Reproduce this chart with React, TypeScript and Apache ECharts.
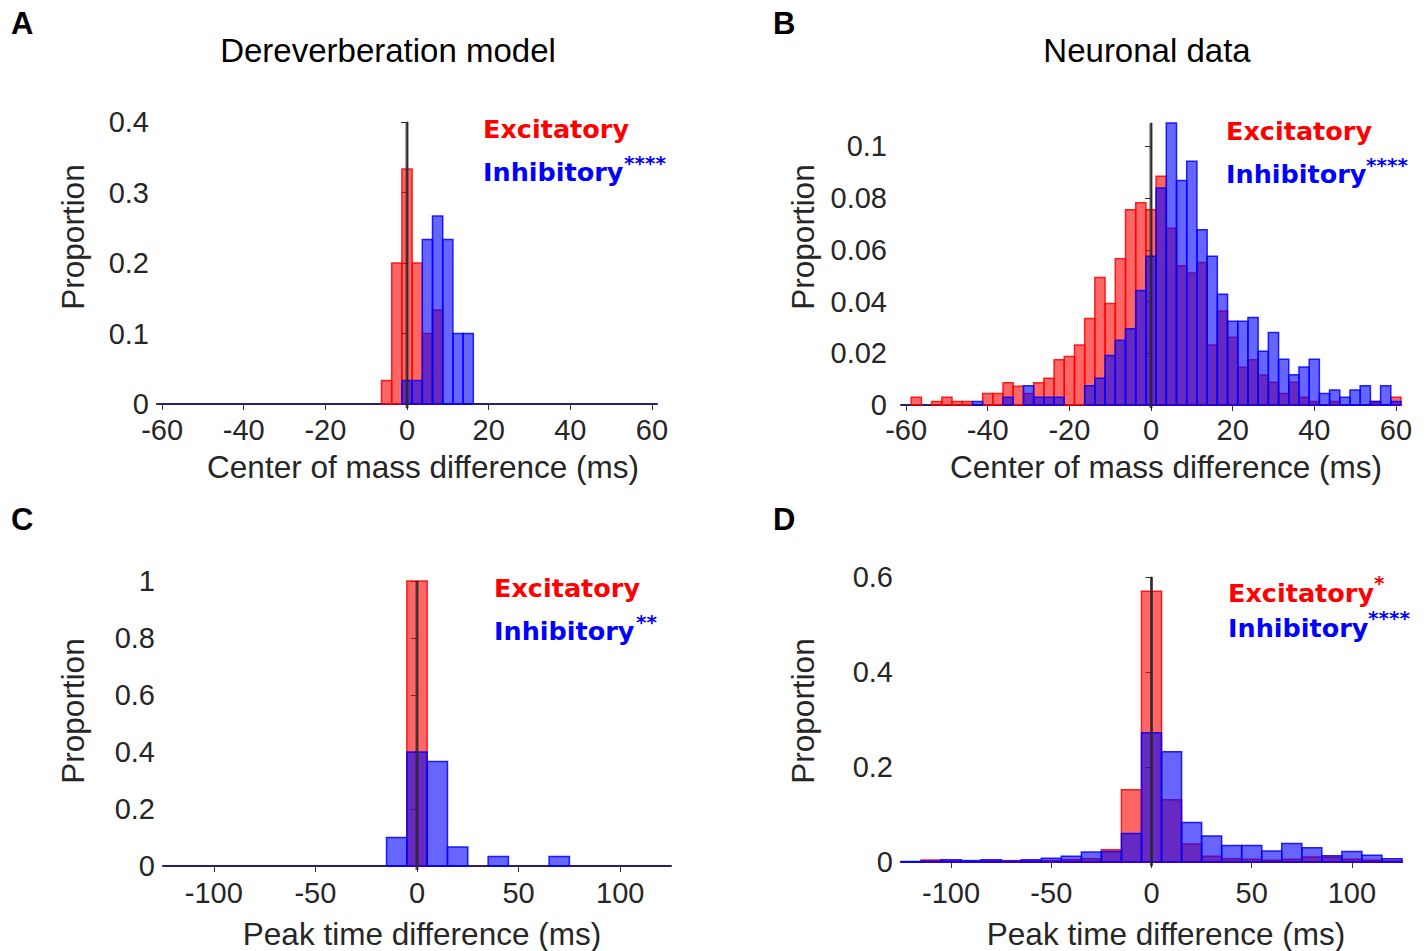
import React, { useEffect, useRef } from "react";
import * as echarts from "echarts";

// ---------- Panel A: Dereverberation model, center of mass difference (bin width 2.5 ms)
const A_CENTERS = [-5, -2.5, 0, 2.5, 5, 7.5, 10, 12.5, 15];
const A_EXC = [0.0333, 0.2, 0.3333, 0.2, 0.1, 0.1333, 0, 0, 0];
const A_INH = [0, 0, 0.0333, 0.0333, 0.2333, 0.2667, 0.2333, 0.1, 0.1];

// ---------- Panel B: Neuronal data, center of mass difference (bin width 2.5 ms)
const B_CENTERS = [
  -60, -57.5, -55, -52.5, -50, -47.5, -45, -42.5, -40, -37.5, -35, -32.5, -30, -27.5, -25, -22.5,
  -20, -17.5, -15, -12.5, -10, -7.5, -5, -2.5, 0, 2.5, 5, 7.5, 10, 12.5, 15, 17.5, 20, 22.5, 25,
  27.5, 30, 32.5, 35, 37.5, 40, 42.5, 45, 47.5, 50, 52.5, 55, 57.5, 60,
];
const B_EXC = [
  0, 0.003, 0, 0.0014, 0.003, 0.0014, 0.0014, 0, 0.0044, 0.0044, 0.0086, 0.0072, 0.0044, 0.0086,
  0.0103, 0.0175, 0.0187, 0.0232, 0.0334, 0.0493, 0.0392, 0.0565, 0.0755, 0.0782, 0.0755, 0.0884,
  0.0683, 0.0538, 0.051, 0.0551, 0.0232, 0.0363, 0.0262, 0.0146, 0.0175, 0.0116, 0.0088, 0.0044,
  0.0088, 0.003, 0.0014, 0, 0.0014, 0, 0, 0, 0.0014, 0, 0.003,
];
const B_INH = [
  0, 0, 0, 0, 0, 0, 0, 0.0014, 0, 0, 0.003, 0, 0.0074, 0.003, 0.003, 0.003, 0, 0, 0.0074, 0.0103,
  0.0191, 0.025, 0.0295, 0.0443, 0.0575, 0.0839, 0.109, 0.0868, 0.0942, 0.0677, 0.0575, 0.0428,
  0.0324, 0.0324, 0.0338, 0.0208, 0.028, 0.0177, 0.0117, 0.0147, 0.0177, 0.0044, 0.0058, 0.003,
  0.0058, 0.0074, 0.0014, 0.0074, 0.0014,
];

// ---------- Panel C: Dereverberation model, peak time difference (bin width 10 ms)
const C_CENTERS = [-10, 0, 10, 20, 40, 70];
const C_EXC = [0, 1, 0, 0, 0, 0];
const C_INH = [0.1, 0.4, 0.3667, 0.0667, 0.0333, 0.0333];

// ---------- Panel D: Neuronal data, peak time difference (bin width 10 ms)
const D_CENTERS = [
  -120, -110, -100, -90, -80, -70, -60, -50, -40, -30, -20, -10, 0, 10, 20, 30, 40, 50, 60, 70, 80,
  90, 100, 110, 120,
];
const D_EXC = [
  0, 0.004, 0.002, 0.001, 0.002, 0.003, 0.002, 0.003, 0.005, 0.007, 0.026, 0.152, 0.57, 0.131,
  0.038, 0.012, 0.007, 0.0056, 0.0035, 0.0056, 0.0105, 0.01, 0.0056, 0.0035, 0.002,
];
const D_INH = [
  0.001, 0.002, 0.005, 0.003, 0.005, 0.002, 0.005, 0.008, 0.012, 0.021, 0.022, 0.06, 0.272, 0.232,
  0.083, 0.055, 0.035, 0.035, 0.023, 0.039, 0.03, 0.013, 0.022, 0.014, 0.007,
];

// ---------- Tick values
const X_TICKS_COM = [-60, -40, -20, 0, 20, 40, 60];
const X_TICKS_PEAK = [-100, -50, 0, 50, 100];
const A_Y_TICKS = [0, 0.1, 0.2, 0.3, 0.4];
const B_Y_TICKS = [0, 0.02, 0.04, 0.06, 0.08, 0.1];
const C_Y_TICKS = [0, 0.2, 0.4, 0.6, 0.8, 1];
const D_Y_TICKS = [0, 0.2, 0.4, 0.6];

const SANS = "Liberation Sans, Arial, sans-serif";
const BOLD = "DejaVu Sans, sans-serif";
const TXT = "#262626";

type Panel = {
  centers: number[];
  exc: number[];
  inh: number[];
  binWidth: number;
  xMin: number;
  xMax: number;
  xTicks: number[];
  yMax: number;
  yTicks: number[];
  grid: { left: number; top: number; width: number; height: number };
  xLabelMargin: number;
  yLabelMargin: number;
  lineBelow: number;
};

const PANELS: Panel[] = [
  {
    centers: A_CENTERS, exc: A_EXC, inh: A_INH, binWidth: 2.5,
    xMin: -61.25, xMax: 61.25, xTicks: X_TICKS_COM, yMax: 0.4, yTicks: A_Y_TICKS,
    grid: { left: 157, top: 122, width: 500, height: 282 }, xLabelMargin: 11, yLabelMargin: 8, lineBelow: 0.006,
  },
  {
    centers: B_CENTERS, exc: B_EXC, inh: B_INH, binWidth: 2.5,
    xMin: -61.25, xMax: 61.25, xTicks: X_TICKS_COM, yMax: 0.109, yTicks: B_Y_TICKS,
    grid: { left: 901, top: 123, width: 500, height: 282 }, xLabelMargin: 10, yLabelMargin: 14, lineBelow: 0.0013,
  },
  {
    centers: C_CENTERS, exc: C_EXC, inh: C_INH, binWidth: 10,
    xMin: -125, xMax: 125, xTicks: X_TICKS_PEAK, yMax: 1, yTicks: C_Y_TICKS,
    grid: { left: 163, top: 581, width: 508, height: 285 }, xLabelMargin: 12, yLabelMargin: 8, lineBelow: 0.014,
  },
  {
    centers: D_CENTERS, exc: D_EXC, inh: D_INH, binWidth: 10,
    xMin: -125, xMax: 125, xTicks: X_TICKS_PEAK, yMax: 0.6, yTicks: D_Y_TICKS,
    grid: { left: 901, top: 577, width: 501, height: 285 }, xLabelMargin: 16, yLabelMargin: 8, lineBelow: 0.009,
  },
];

const makeRender = (binWidth: number, fill: string, stroke: string) => (_params: any, api: any) => {
  const c = api.value(0);
  const v = api.value(1);
  if (!v) return { type: "group", children: [] };
  const p0 = api.coord([c - binWidth / 2, v]);
  const p1 = api.coord([c + binWidth / 2, 0]);
  return {
    type: "rect",
    shape: { x: p0[0], y: p0[1], width: p1[0] - p0[0], height: p1[1] - p0[1] },
    style: { fill, stroke, lineWidth: 1.5 },
  };
};

function buildOption() {
  const grids: any[] = [];
  const xAxes: any[] = [];
  const yAxes: any[] = [];
  const series: any[] = [];
  PANELS.forEach((p, i) => {
    grids.push({ ...p.grid, containLabel: false, outerBoundsMode: "none" });
    xAxes.push({
      type: "value", gridIndex: i, min: p.xMin, max: p.xMax,
      splitLine: { show: false },
      axisLine: { show: true, onZero: false, lineStyle: { color: "#2c1e62", width: 2 } },
      axisTick: { show: true, customValues: p.xTicks, length: 6, lineStyle: { color: "#333", width: 1 } },
      axisLabel: { customValues: p.xTicks, fontSize: 29, fontFamily: SANS, color: TXT, margin: p.xLabelMargin },
    });
    yAxes.push({
      type: "value", gridIndex: i, min: 0, max: p.yMax,
      splitLine: { show: false },
      axisLine: { show: true, lineStyle: { color: "#333", width: 1 } },
      axisTick: { show: true, customValues: p.yTicks, length: 6, lineStyle: { color: "#333", width: 1 } },
      axisLabel: { customValues: p.yTicks, fontSize: 29, fontFamily: SANS, color: TXT, margin: p.yLabelMargin },
    });
    series.push({
      type: "custom", xAxisIndex: i, yAxisIndex: i, z: 2,
      renderItem: makeRender(p.binWidth, "rgba(255,0,0,0.6)", "rgba(255,0,0,0.85)"),
      encode: { x: 0, y: 1 },
      data: p.centers.map((c, k) => [c, p.exc[k]]),
    });
    series.push({
      type: "custom", xAxisIndex: i, yAxisIndex: i, z: 3,
      renderItem: makeRender(p.binWidth, "rgba(0,0,255,0.6)", "rgba(0,0,255,0.85)"),
      encode: { x: 0, y: 1 },
      data: p.centers.map((c, k) => [c, p.inh[k]]),
    });
    series.push({
      type: "line", xAxisIndex: i, yAxisIndex: i, z: 5, clip: false,
      symbol: "none", silent: true,
      lineStyle: { color: "rgba(40,40,40,0.8)", width: 3 },
      data: [[0, -p.lineBelow], [0, p.yMax]],
    });
  });

  const txt = (text: string, x: number, y: number, o: any = {}) => ({
    type: "text", x, y, silent: true,
    style: {
      text, fontFamily: SANS, fontSize: 31.5, fill: TXT,
      align: "center", verticalAlign: "middle", ...o,
    },
  });
  const rot = (text: string, x: number, y: number) => ({
    type: "text", x, y, rotation: Math.PI / 2, silent: true,
    style: { text, fontFamily: SANS, fontSize: 31.5, fill: TXT, align: "center", verticalAlign: "middle" },
  });
  const leg = (text: string, x: number, y: number, color: string, size = 25) => ({
    type: "text", x, y, silent: true,
    style: { text, fontFamily: BOLD, fontWeight: "bold", fontSize: size, fill: color, align: "left", verticalAlign: "middle" },
  });

  const graphic: any[] = [
    txt("A", 11, 23, { fontWeight: "bold", fontSize: 31, fill: "#000", align: "left" }),
    txt("B", 773, 23, { fontWeight: "bold", fontSize: 31, fill: "#000", align: "left" }),
    txt("C", 11, 519, { fontWeight: "bold", fontSize: 31, fill: "#000", align: "left" }),
    txt("D", 773, 519, { fontWeight: "bold", fontSize: 31, fill: "#000", align: "left" }),
    txt("Dereverberation model", 388, 50, { fontSize: 33, fill: "#000" }),
    txt("Neuronal data", 1147, 50, { fontSize: 33, fill: "#000" }),
    rot("Proportion", 73, 237),
    rot("Proportion", 803, 237),
    rot("Proportion", 73, 711),
    rot("Proportion", 803, 711),
    txt("Center of mass difference (ms)", 423, 467),
    txt("Center of mass difference (ms)", 1166, 467),
    txt("Peak time difference (ms)", 422, 934),
    txt("Peak time difference (ms)", 1166, 934),
    leg("Excitatory", 483, 129, "#ff0000", 25.5),
    leg("Inhibitory", 483, 172, "#0000ff", 25.5),
    leg("****", 624, 163, "#0000ff", 20),
    leg("Excitatory", 1226, 131, "#ff0000", 25.5),
    leg("Inhibitory", 1226, 174, "#0000ff", 25.5),
    leg("****", 1366, 165, "#0000ff", 20),
    leg("Excitatory", 494, 588, "#ff0000", 25.5),
    leg("Inhibitory", 494, 631, "#0000ff", 25.5),
    leg("**", 636, 622, "#0000ff", 20),
    leg("Excitatory", 1228, 593, "#ff0000", 25.5),
    leg("*", 1374, 583, "#ff0000", 20),
    leg("Inhibitory", 1228, 628, "#0000ff", 25.5),
    leg("****", 1368, 618, "#0000ff", 20),
  ];

  return {
    animation: false,
    backgroundColor: "#ffffff",
    grid: grids,
    xAxis: xAxes,
    yAxis: yAxes,
    series,
    graphic,
  };
}

export default function App() {
  const ref = useRef<HTMLDivElement>(null);
  useEffect(() => {
    document.body.style.margin = "0";
    const chart = echarts.init(ref.current!, undefined, { renderer: "svg" });
    chart.setOption(buildOption() as any);
    return () => chart.dispose();
  }, []);
  return <div ref={ref} style={{ width: 1427, height: 951 }} />;
}
